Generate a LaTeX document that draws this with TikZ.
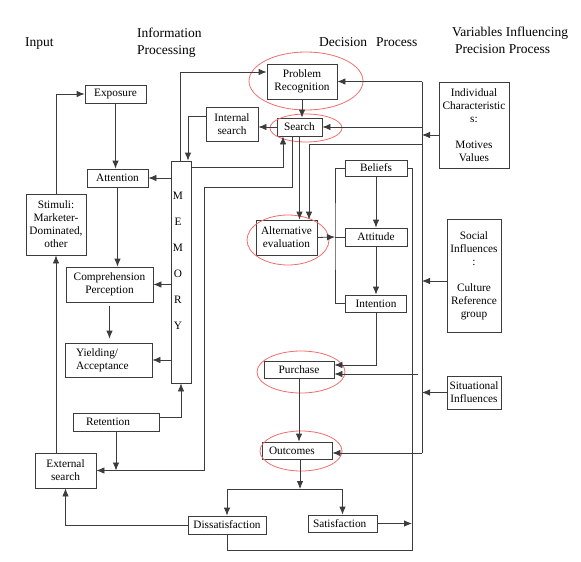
\documentclass[tikz,border=0pt]{standalone}
\usepackage{fontspec}
\setmainfont{Liberation Serif}
\usetikzlibrary{arrows.meta}
\definecolor{ovalred}{RGB}{238,110,110}
\definecolor{linegray}{RGB}{60,60,60}

\begin{document}
\begin{tikzpicture}[x=1pt, y=-1pt,
	box/.style={draw=linegray, line width=0.8pt, align=center, inner sep=1pt, font=\fontsize{11.3}{13}\selectfont},
	conn/.style={draw=linegray, line width=0.8pt},
	arr/.style={conn, -{Latex[length=8pt,width=6.5pt]}},
	oval/.style={draw=ovalred, line width=0.8pt},
	head/.style={font=\fontsize{13.5}{16.5}\selectfont, align=left, inner sep=0pt}]
	\useasboundingbox (0,0) rectangle (581,562);
	%headings
	\node[head, anchor=west] (tinput) at (25,44) {Input};
	\node[head, anchor=north west] (tinfo) at (137,28) {Information\\Processing};
	\node[head, anchor=west] (tdecis) at (319,42) {Decision\hspace{9pt}Process};
	\node[head, anchor=north west] (tvars) at (452,27) {Variables Influencing\\\hspace{3pt}Precision Process};
	%input and information processing
	\node[box, minimum width=61pt, minimum height=18pt] (expo) at (115.5,94) {Exposure};
	\node[box, minimum width=61pt, minimum height=18pt] (atten) at (117.5,178) {Attention};
	\node[box, minimum width=60pt, minimum height=61pt] (stim) at (56,224.5) {Stimuli:\\Marketer-\\Dominated,\\other};
	\node[box, minimum width=20pt, minimum height=222pt] (mem) at (181,272) {};
	\node[box, draw=none, font=\fontsize{11.3}{26}\selectfont] (memtxt) at (178,260.5) {M\\E\\M\\O\\R\\Y};
	\node[box, minimum width=52pt, minimum height=34pt] (intsrch) at (232,124) {Internal\\search};
	\node[box, minimum width=87pt, minimum height=35pt] (compr) at (109.5,284.5) {Comprehension\\Perception};
	\node[box, minimum width=87pt, minimum height=34pt, text width=65pt, align=left] (yield) at (108.5,360) {Yielding/\\Acceptance};
	\node[box, minimum width=86pt, minimum height=18pt, text width=60pt, align=left] (retent) at (116,422) {Retention};
	\node[box, minimum width=61pt, minimum height=35pt] (extsrch) at (65.5,470.5) {External\\search};
	%decision process
	\node[box, minimum width=70pt, minimum height=35pt] (probrec) at (302,81.5) {Problem\\Recognition};
	\node[box, minimum width=45pt, minimum height=18pt] (srch) at (299.5,127) {Search};
	\node[box, minimum width=61pt, minimum height=35pt] (alteval) at (286.5,237.5) {Alternative\\evaluation};
	\node[box, minimum width=62pt, minimum height=16pt] (beliefs) at (376,168) {Beliefs};
	\node[box, minimum width=62pt, minimum height=18pt] (attit) at (376,237) {Attitude};
	\node[box, minimum width=61pt, minimum height=17pt] (intent) at (376,303.5) {Intention};
	\node[box, minimum width=70pt, minimum height=17pt] (purch) at (299,369.5) {Purchase};
	\node[box, minimum width=70pt, minimum height=17pt, text width=56pt, align=left] (outc) at (297,450.5) {Outcomes};
	\node[box, minimum width=78pt, minimum height=18pt] (dissat) at (227,525) {Dissatisfaction};
	\node[box, minimum width=69pt, minimum height=17pt, text width=59pt, align=left] (satis) at (342.5,523.5) {Satisfaction};
	%variables
	\node[box, minimum width=70pt, minimum height=86pt] (indiv) at (474,125) {Individual\\Characteristic\\s:\\[13pt]Motives\\Values};
	\node[box, minimum width=54pt, minimum height=113pt] (social) at (474,275.5) {Social\\Influences\\:\\[13pt]Culture\\Reference\\group};
	\node[box, minimum width=54pt, minimum height=33pt] (situ) at (474,392.5) {Situational\\Influences};
	%ovals
	\draw[oval] (306,81) ellipse [x radius=57pt, y radius=29pt];
	\draw[oval] (306,128) ellipse [x radius=36pt, y radius=14pt];
	\draw[oval] (288,240) ellipse [x radius=41pt, y radius=25pt];
	\draw[oval] (301,372) ellipse [x radius=44pt, y radius=21pt];
	\draw[oval] (301,451) ellipse [x radius=41pt, y radius=20pt];
	%corners
	\coordinate (memrail) at (204,187);
	\coordinate (loopL) at (335,237);
	\coordinate (split) at (300,489);
	\coordinate (backrail) at (412,550);
	\coordinate (railtop) at (422,81.5);
	\coordinate (railbot) at (422,453);
	\coordinate (evalin) at (422,144);
	\coordinate (purchin) at (418,374);
	\coordinate (indivout) at ([yshift=-10pt]indiv.west);
	\coordinate (socialout) at ([yshift=-5.5pt]social.west);
	%input side
	\draw[arr] (stim.north) |- (expo.west);
	\draw[arr] (expo.south) -- (expo.south |- atten.north);
	\draw[arr] (atten.south) -- (atten.south |- compr.north);
	\draw[arr, shorten <=4pt, shorten >=4pt] (compr.south) -- (compr.south |- yield.north);
	\draw[arr] (extsrch.north -| stim.south) -- (stim.south);
	\draw[arr] (dissat.west) -| (extsrch.south);
	%memory
	\draw[arr] (mem.west |- atten.east) -- (atten.east);
	\draw[arr] (mem.west |- compr.east) -- (compr.east);
	\draw[arr] (mem.west |- yield.east) -- (yield.east);
	\draw[arr] ([xshift=-1pt]mem.north) |- ([yshift=9.5pt]probrec.west);
	\draw[arr] ([yshift=8pt]intsrch.west) -| ([xshift=7pt]mem.north);
	\draw[arr] ([yshift=-7pt]mem.north east) -| ([xshift=-16.5pt]srch.south);
	\draw[arr] ([yshift=5pt]retent.east) -| (mem.south);
	\draw[arr] ([xshift=-7.5pt]srch.south) |- (memrail) |- (extsrch.east);
	\draw[arr] (retent.south) -- (retent.south |- extsrch.east);
	%decision
	\draw[arr] (probrec.south) -- (probrec.south |- srch.north);
	\draw[arr] (srch.west) -- (intsrch.east |- srch.west);
	\draw[arr] (srch.south) -- (srch.south |- alteval.north);
	\draw[arr] (evalin) -| ([xshift=22.5pt]alteval.north);
	\draw[arr] (alteval.east) -- (loopL);
	\draw[conn] (beliefs.west) -| (loopL) |- (intent.west);
	\draw[conn] (attit.west) -- (loopL);
	\draw[arr] (beliefs.south) -- (attit.north);
	\draw[arr] (attit.south) -- (intent.north);
	\draw[arr] (intent.south) |- ([yshift=4.5pt]purch.east);
	\draw[arr] (purchin) -- (purchin -| purch.east);
	\draw[arr] (purch.south) -- (purch.south |- outc.north);
	\draw[arr] (outc.south -| split) -- (split);
	\draw[arr] (split) -| (dissat.north);
	\draw[arr] (split) -| (satis.north);
	\draw[arr] (satis.east) -- (satis.east -| backrail);
	\draw[conn] (dissat.south) |- (backrail) |- (beliefs.east);
	%influences
	\draw[conn] (railtop) -- (railbot);
	\draw[arr] (railtop) -- (probrec.east);
	\draw[arr] (railtop |- srch.east) -- (srch.east);
	\draw[arr] (railbot) -- (railbot -| outc.east);
	\draw[arr] (indivout) -- (indivout -| railtop);
	\draw[arr] (socialout) -- (socialout -| railtop);
	\draw[arr] (situ.west) -- (situ.west -| railtop);
\end{tikzpicture}
\end{document}
